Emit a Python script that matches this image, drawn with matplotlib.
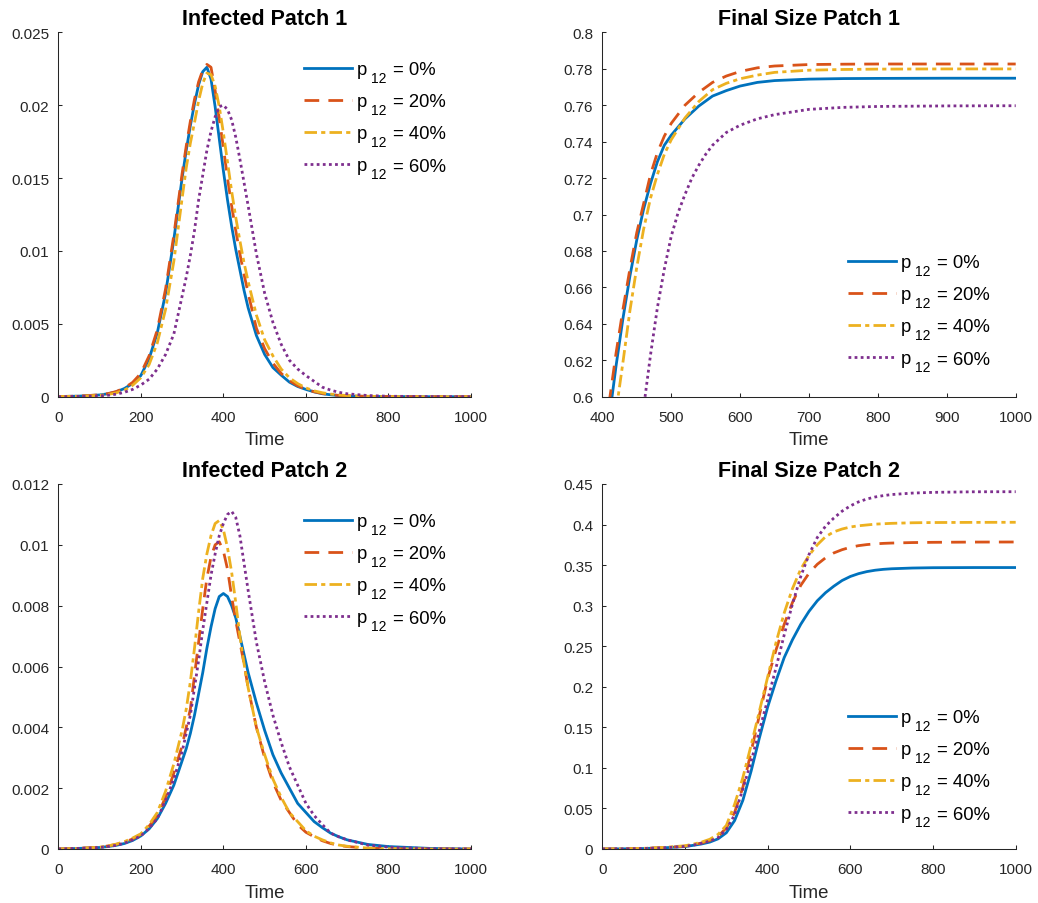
import numpy as np
import matplotlib.pyplot as plt
from matplotlib.ticker import FuncFormatter

plt.rcParams['font.family'] = ['Liberation Sans', 'DejaVu Sans']

# travel shares p12 shown in every panel
shares = ['0%', '20%', '40%', '60%']

# ---- infected fraction, patch 1 and patch 2 (common time grid) ----
t_inf = [0, 50, 100, 120, 140, 160, 180, 200, 220, 240, 260, 280, 300,
         310, 320, 330, 340, 350, 360, 370, 380, 390, 400, 410, 420, 430,
         440, 450, 460, 480, 500, 520, 540, 560, 580, 600, 620, 640, 660,
         680, 700, 750, 800, 900, 1000]

inf1_p0 = [0.00001, 0.00004, 0.00012, 0.0002, 0.00033, 0.00056, 0.0009,
           0.00145, 0.0026, 0.0044, 0.0071, 0.0108, 0.0150, 0.0169, 0.0186,
           0.0201, 0.0214, 0.0223, 0.0226, 0.0218, 0.0199, 0.0177, 0.0155,
           0.0135, 0.0117, 0.0101, 0.0087, 0.0073, 0.0061, 0.0042, 0.0029,
           0.0020, 0.00148, 0.0010, 0.0007, 0.0005, 0.00033, 0.0002,
           0.00013, 0.00008, 0.00005, 0.00002, 0.00001, 0.0, 0.0]
inf1_p20 = [0.00001, 0.00004, 0.00013, 0.00021, 0.00035, 0.0006, 0.00098,
            0.0016, 0.0028, 0.0046, 0.0074, 0.0111, 0.0153, 0.0172, 0.0189,
            0.0204, 0.0216, 0.0224, 0.0228, 0.0226, 0.0210, 0.0191, 0.0171,
            0.0150, 0.0131, 0.0114, 0.0098, 0.0084, 0.0071, 0.0047, 0.0033,
            0.0023, 0.0016, 0.0011, 0.00075, 0.0005, 0.00034, 0.00022,
            0.00014, 0.00009, 0.00006, 0.00002, 0.00001, 0.0, 0.0]
inf1_p40 = [0.00001, 0.00003, 0.00009, 0.00015, 0.00026, 0.00045, 0.00078,
            0.0013, 0.0022, 0.0037, 0.0060, 0.0093, 0.0136, 0.0157, 0.0174,
            0.0188, 0.0203, 0.0215, 0.0222, 0.0221, 0.0213, 0.0199, 0.0181,
            0.0161, 0.0141, 0.0123, 0.0107, 0.0092, 0.0079, 0.0056, 0.0039,
            0.0028, 0.0019, 0.0013, 0.0009, 0.0006, 0.0004, 0.00027,
            0.00018, 0.00012, 0.00008, 0.00003, 0.00001, 0.0, 0.0]
inf1_p60 = [0.0, 0.00002, 0.00006, 0.0001, 0.00017, 0.0003, 0.0005,
            0.0008, 0.0012, 0.0019, 0.0029, 0.0043, 0.0069, 0.0082, 0.0097,
            0.0114, 0.0135, 0.0152, 0.0169, 0.0182, 0.0192, 0.0199, 0.0200,
            0.0197, 0.0190, 0.0178, 0.0163, 0.0147, 0.0131, 0.0098, 0.0071,
            0.0051, 0.0036, 0.0025, 0.0019, 0.00145, 0.00105, 0.00065,
            0.00045, 0.0003, 0.0002, 0.00008, 0.00003, 0.00001, 0.0]

inf2_p0 = [0.0, 0.00002, 0.00005, 0.00008, 0.00012, 0.00018, 0.00028,
           0.00043, 0.00066, 0.0010, 0.0015, 0.0021, 0.0029, 0.0033, 0.0038,
           0.0044, 0.0051, 0.0058, 0.0066, 0.0073, 0.0079, 0.0083, 0.0084,
           0.0083, 0.0080, 0.0076, 0.0070, 0.0064, 0.0058, 0.0048, 0.0039,
           0.0031, 0.0025, 0.0020, 0.0015, 0.0012, 0.0009, 0.0007, 0.00052,
           0.0004, 0.0003, 0.00015, 0.00008, 0.00002, 0.0]
inf2_p20 = [0.0, 0.00002, 0.00006, 0.0001, 0.00015, 0.00022, 0.00033,
            0.00048, 0.00075, 0.0011, 0.0017, 0.0025, 0.0034, 0.0040, 0.0046,
            0.0057, 0.0068, 0.0079, 0.0089, 0.0096, 0.0100, 0.0101, 0.0098,
            0.0092, 0.0083, 0.0075, 0.0068, 0.0061, 0.0053, 0.0040, 0.0030,
            0.0022, 0.0016, 0.0012, 0.0008, 0.00055, 0.0004, 0.00027,
            0.00018, 0.00012, 0.00008, 0.00003, 0.00001, 0.0, 0.0]
inf2_p40 = [0.0, 0.00002, 0.00006, 0.0001, 0.00016, 0.00024, 0.00036,
            0.0005, 0.0008, 0.0012, 0.0019, 0.0028, 0.0039, 0.0046, 0.0055,
            0.0066, 0.0078, 0.0089, 0.0097, 0.0103, 0.0107, 0.0108, 0.0105,
            0.0099, 0.0091, 0.0081, 0.0070, 0.0061, 0.0053, 0.0040, 0.0031,
            0.0023, 0.0017, 0.0012, 0.0009, 0.0006, 0.00042, 0.0003, 0.0002,
            0.00013, 0.00009, 0.00003, 0.00001, 0.0, 0.0]
inf2_p60 = [0.0, 0.00002, 0.00005, 0.00008, 0.00012, 0.00019, 0.0003,
            0.00043, 0.00068, 0.0010, 0.0016, 0.0023, 0.0032, 0.0038, 0.0044,
            0.0053, 0.0062, 0.0072, 0.0081, 0.0090, 0.0097, 0.0103, 0.0107,
            0.0110, 0.0111, 0.0109, 0.0103, 0.0094, 0.0085, 0.0068, 0.0055,
            0.0044, 0.0035, 0.0027, 0.0021, 0.0015, 0.0011, 0.0008, 0.00052,
            0.0004, 0.0003, 0.00013, 0.00006, 0.00001, 0.0]

# ---- cumulative (final size), patch 1: each run starts where it enters view ----
t_fs1_p0 = [410, 420, 430, 440, 450, 460, 470, 480, 490, 500, 520, 540, 560,
            580, 600, 625, 650, 700, 750, 800, 900, 1000]
fs1_p0 = [0.588, 0.617, 0.643, 0.666, 0.686, 0.703, 0.717, 0.729, 0.738,
          0.7435, 0.7525, 0.7595, 0.765, 0.768, 0.7705, 0.7725, 0.7735,
          0.7743, 0.7746, 0.7747, 0.7748, 0.7748]
t_fs1_p20 = [405, 410, 420, 430, 440, 450, 460, 470, 480, 490, 500, 520,
             540, 560, 580, 600, 625, 650, 700, 750, 800, 900, 1000]
fs1_p20 = [0.583, 0.597, 0.624, 0.648, 0.670, 0.690, 0.706, 0.722, 0.734,
           0.743, 0.750, 0.760, 0.767, 0.7725, 0.776, 0.7785, 0.7805,
           0.7815, 0.7823, 0.7825, 0.7826, 0.7826, 0.7826]
t_fs1_p40 = [415, 420, 430, 440, 450, 460, 470, 480, 490, 500, 520, 540,
             560, 580, 600, 625, 650, 700, 750, 800, 900, 1000]
fs1_p40 = [0.578, 0.592, 0.619, 0.647, 0.671, 0.692, 0.709, 0.722, 0.733,
           0.741, 0.753, 0.762, 0.7685, 0.772, 0.7745, 0.7765, 0.778,
           0.7792, 0.7796, 0.7798, 0.7799, 0.7799]
t_fs1_p60 = [455, 460, 470, 480, 490, 500, 510, 520, 530, 540, 550, 560,
             580, 600, 625, 650, 700, 750, 800, 900, 1000]
fs1_p60 = [0.580, 0.594, 0.623, 0.649, 0.670, 0.688, 0.701, 0.711, 0.720,
           0.727, 0.733, 0.738, 0.745, 0.749, 0.7525, 0.7548, 0.7577,
           0.7588, 0.7593, 0.7596, 0.7597]

# ---- cumulative (final size), patch 2 ----
t_fs2 = [0, 50, 100, 150, 200, 220, 240, 260, 280, 300, 320, 340, 360, 380,
         400, 420, 440, 460, 480, 500, 520, 540, 560, 580, 600, 620, 640,
         660, 680, 700, 750, 800, 900, 1000]
fs2_p0 = [0.0, 0.0002, 0.0006, 0.0015, 0.003, 0.0045, 0.0062, 0.0085,
          0.0125, 0.020, 0.035, 0.060, 0.096, 0.137, 0.175, 0.207, 0.236,
          0.258, 0.277, 0.293, 0.306, 0.316, 0.324, 0.331, 0.336, 0.3395,
          0.342, 0.3437, 0.3448, 0.3455, 0.3464, 0.3468, 0.347, 0.347]
fs2_p20 = [0.0, 0.0002, 0.0007, 0.0017, 0.0035, 0.0052, 0.0074, 0.0105,
           0.0155, 0.026, 0.045, 0.076, 0.120, 0.165, 0.210, 0.245, 0.277,
           0.304, 0.325, 0.340, 0.351, 0.359, 0.365, 0.369, 0.372, 0.374,
           0.3753, 0.3762, 0.3768, 0.3772, 0.3778, 0.3781, 0.3784, 0.3785]
fs2_p40 = [0.0, 0.0002, 0.0008, 0.002, 0.004, 0.006, 0.0085, 0.012, 0.018,
           0.029, 0.055, 0.088, 0.128, 0.170, 0.212, 0.254, 0.291, 0.321,
           0.345, 0.362, 0.375, 0.385, 0.391, 0.3945, 0.397, 0.3985,
           0.3995, 0.4005, 0.401, 0.4015, 0.4022, 0.4025, 0.4027, 0.4028]
fs2_p60 = [0.0, 0.0002, 0.0006, 0.0015, 0.0032, 0.0048, 0.007, 0.0098,
           0.014, 0.024, 0.042, 0.074, 0.108, 0.146, 0.184, 0.223, 0.264,
           0.302, 0.336, 0.363, 0.384, 0.398, 0.408, 0.4165, 0.423, 0.428,
           0.4315, 0.434, 0.4357, 0.437, 0.4388, 0.4397, 0.4404, 0.4405]

colors = ['#0072BD', '#D95319', '#EDB120', '#7E2F8E']
styles = ['-', (0, (5.3, 3.3)), (0, (4.5, 1.5, 1.5, 1.5)), (0, (1.0, 1.2))]
ink = '#262626'

W, H = 1038, 904
fig = plt.figure(figsize=(W / 100, H / 100), dpi=100)


def px_axes(x0, x1, y0, y1):
    # axes box given in pixel corners (top-left origin)
    return fig.add_axes([x0 / W, 1 - y1 / H, (x1 - x0) / W, (y1 - y0) / H])


def fmt(v, pos):
    return '%g' % round(v, 6)


def panel(ax, runs, title, xlim, xticks, ylim, yticks, leg_xy):
    # legend entry holds the "p"; the low subscript and the share follow it
    for (t, y), c, ls in zip(runs, colors, styles):
        ax.plot(t, y, color=c, linestyle=ls, lw=2.0, label='p')
    ax.set_xlim(*xlim)
    ax.set_ylim(*ylim)
    ax.set_xticks(xticks)
    ax.set_yticks(yticks)
    ax.xaxis.set_major_formatter(FuncFormatter(fmt))
    ax.yaxis.set_major_formatter(FuncFormatter(fmt))
    for side in ['top', 'right']:
        ax.spines[side].set_visible(False)
    for side in ['left', 'bottom']:
        ax.spines[side].set_color(ink)
        ax.spines[side].set_linewidth(0.75)
    ax.tick_params(direction='in', length=3, width=0.75, color=ink,
                   labelcolor=ink, labelsize=11)
    ax.tick_params(axis='x', pad=9.4)
    ax.tick_params(axis='y', pad=6.6)
    ax.set_title(title, fontsize=15.5, fontweight='bold', pad=6.0)
    ax.set_xlabel('Time', fontsize=13.4, color=ink, labelpad=5.5)
    return ax.legend(loc='upper left',
                     bbox_to_anchor=(leg_xy[0] / W, 1 - leg_xy[1] / H),
                     bbox_transform=fig.transFigure, frameon=False,
                     fontsize=13.3, borderpad=0, borderaxespad=0,
                     handlelength=2.6, handletextpad=0.25, labelspacing=0.82)


legends = []

ax1 = px_axes(58.3, 471, 33.3, 397.7)
legends.append(panel(
    ax1, [(t_inf, inf1_p0), (t_inf, inf1_p20), (t_inf, inf1_p40), (t_inf, inf1_p60)],
    'Infected Patch 1', (0, 1000), np.arange(0, 1001, 200),
    (0, 0.025), np.linspace(0, 0.025, 6), (304, 62)))

ax2 = px_axes(602.3, 1015.7, 33.3, 397.7)
legends.append(panel(
    ax2, [(t_fs1_p0, fs1_p0), (t_fs1_p20, fs1_p20), (t_fs1_p40, fs1_p40),
          (t_fs1_p60, fs1_p60)],
    'Final Size Patch 1', (400, 1000), np.arange(400, 1001, 100),
    (0.6, 0.8), np.linspace(0.6, 0.8, 11), (848, 255)))

ax3 = px_axes(58.3, 471, 485, 850)
legends.append(panel(
    ax3, [(t_inf, inf2_p0), (t_inf, inf2_p20), (t_inf, inf2_p40), (t_inf, inf2_p60)],
    'Infected Patch 2', (0, 1000), np.arange(0, 1001, 200),
    (0, 0.012), np.linspace(0, 0.012, 7), (304, 514)))

ax4 = px_axes(602.3, 1015.7, 485, 850)
legends.append(panel(
    ax4, [(t_fs2, fs2_p0), (t_fs2, fs2_p20), (t_fs2, fs2_p40), (t_fs2, fs2_p60)],
    'Final Size Patch 2', (0, 1000), np.arange(0, 1001, 200),
    (0, 0.45), np.linspace(0, 0.45, 10), (848, 710)))

# write "12" as a low subscript after each legend "p", then "= share"
fig.canvas.draw()
to_fig = fig.transFigure.inverted()
for leg in legends:
    for txt, s in zip(leg.get_texts(), shares):
        bb = txt.get_window_extent()
        x, y = to_fig.transform((bb.x0 + 14, bb.y0 - 3.8))
        fig.text(x, y, '12', fontsize=10, va='baseline', ha='left')
        x, y = to_fig.transform((bb.x0 + 36.5, bb.y0 + 3.9))
        fig.text(x, y, '= ' + s, fontsize=13.3, va='baseline', ha='left')

fig.savefig('out.png', dpi=100, facecolor='white')
